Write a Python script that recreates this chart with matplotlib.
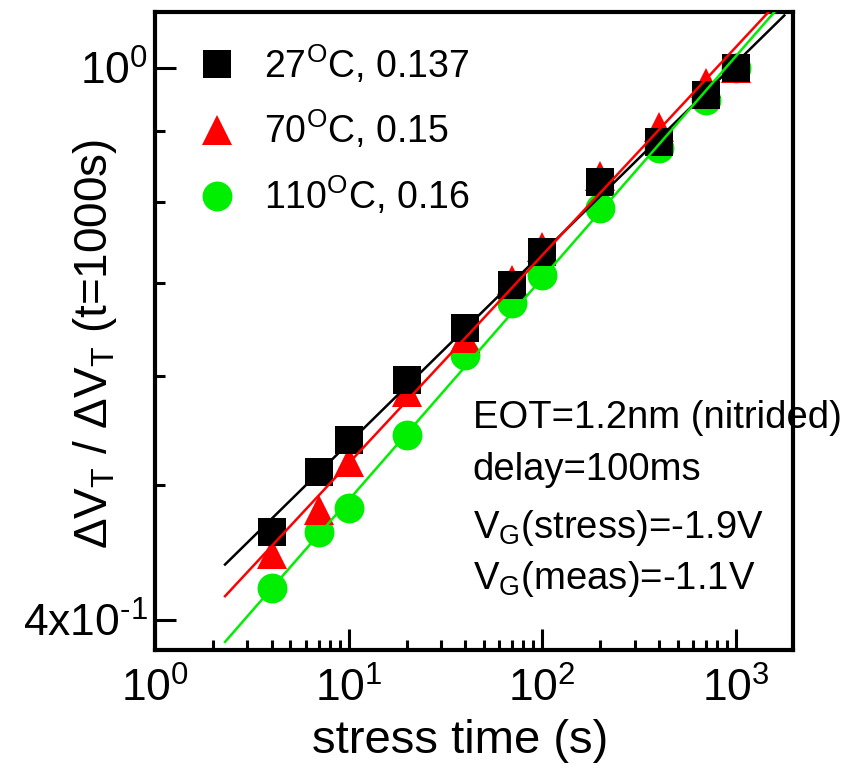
import numpy as np
import matplotlib
matplotlib.use("Agg")
import matplotlib.pyplot as plt
from matplotlib.ticker import FixedLocator, NullFormatter, FixedFormatter

plt.rcParams['font.family'] = ['Liberation Sans', 'DejaVu Sans']
plt.rcParams['mathtext.fontset'] = 'custom'
plt.rcParams['mathtext.rm'] = 'Liberation Sans'
plt.rcParams['mathtext.it'] = 'Liberation Sans:italic'
plt.rcParams['mathtext.bf'] = 'Liberation Sans:bold'

# stress times (s) and normalized threshold-voltage shift per temperature
stress_time = [4, 7, 10, 20, 40, 70, 100, 200, 400, 700, 1000]
dvt_27C = [0.463, 0.511, 0.539, 0.596, 0.649, 0.697, 0.737, 0.828, 0.884, 0.956, 1.0]
dvt_70C = [0.446, 0.480, 0.520, 0.584, 0.639, 0.703, 0.743, 0.836, 0.907, 0.975, 1.0]
dvt_110C = [0.422, 0.463, 0.482, 0.544, 0.621, 0.677, 0.709, 0.793, 0.876, 0.948, 1.0]

# power-law exponents of the fits
exponents = [0.137, 0.15, 0.16]
temperatures = [27, 70, 110]
fit_range = [2.3, 1780]

series = [dvt_27C, dvt_70C, dvt_110C]
colors = ['black', '#ff0000', '#00ee00']
markers = ['s', '^', 'o']
msizes = [20, 22, 21.5]
mzorder = [5, 4, 3]

fig = plt.figure(figsize=(8.47, 7.65), dpi=100)
ax = fig.add_axes([155 / 847, 1 - 650 / 765, 638 / 847, 638 / 765])
ax.set_xscale('log')
ax.set_yscale('log')

t = np.array(stress_time, dtype=float)
for vals, n, temp, c, m, ms, z in zip(series, exponents, temperatures,
                                      colors, markers, msizes, mzorder):
    v = np.array(vals)
    ax.plot(t, v, linestyle='none', marker=m, markersize=ms, color=c,
            markeredgewidth=0, zorder=z,
            label=r'%d$^{\mathrm{O}}$C, %s' % (temp, n))
    # fixed-slope fit in log-log space
    log_a = np.mean(np.log10(v) - n * np.log10(t))
    tf = np.array(fit_range)
    ax.plot(tf, 10 ** log_a * tf ** n, color=c, lw=1.8, zorder=6)

ax.set_xlim(1, 1974)
ax.set_ylim(0.3805, 1.097)

ax.xaxis.set_major_locator(FixedLocator([1, 10, 100, 1000]))
ax.xaxis.set_major_formatter(FixedFormatter([r'$10^{0}$', r'$10^{1}$', r'$10^{2}$', r'$10^{3}$']))
ax.xaxis.set_minor_locator(FixedLocator([d * k for d in (1, 10, 100) for k in range(2, 10)]))
ax.xaxis.set_minor_formatter(NullFormatter())

ax.yaxis.set_major_locator(FixedLocator([0.4, 1.0]))
ax.yaxis.set_major_formatter(FixedFormatter([r'4x10$^{\text{-}1}$', r'$10^{0}$']))
ax.yaxis.set_minor_locator(FixedLocator([0.5, 0.6, 0.7, 0.8, 0.9]))
ax.yaxis.set_minor_formatter(NullFormatter())

ax.tick_params(which='both', direction='in', top=False, right=False, width=2.2)
ax.tick_params(which='major', length=15, labelsize=32)
ax.tick_params(which='minor', length=7.5)
ax.tick_params(axis='x', which='major', pad=13)
ax.tick_params(axis='y', which='major', pad=5)
for sp in ax.spines.values():
    sp.set_linewidth(3)

ax.set_xlabel('stress time (s)', fontsize=34, va='baseline')
ax.xaxis.set_label_coords(0.478, -0.1614)
ax.set_ylabel(r'$\Delta$V$_{\mathrm{T}}$ / $\Delta$V$_{\mathrm{T}}$ (t=1000s)', fontsize=33)
ax.yaxis.set_label_coords(-0.057, 0.48)

leg = ax.legend(loc='upper left', bbox_to_anchor=(0.045, 0.975), frameon=False,
                fontsize=27, handlelength=1.0, handletextpad=0.75,
                labelspacing=0.62, numpoints=1, borderaxespad=0)

notes = ['EOT=1.2nm (nitrided)', 'delay=100ms',
         r'V$_{\mathrm{G}}$(stress)=-1.9V', r'V$_{\mathrm{G}}$(meas)=-1.1V']
note_y = [0.348, 0.2665, 0.1755, 0.0956]
for s, yy in zip(notes, note_y):
    ax.text(0.498, yy, s, transform=ax.transAxes, fontsize=27.5,
            va='baseline', ha='left', zorder=2)

fig.savefig('out.png', dpi=100)
